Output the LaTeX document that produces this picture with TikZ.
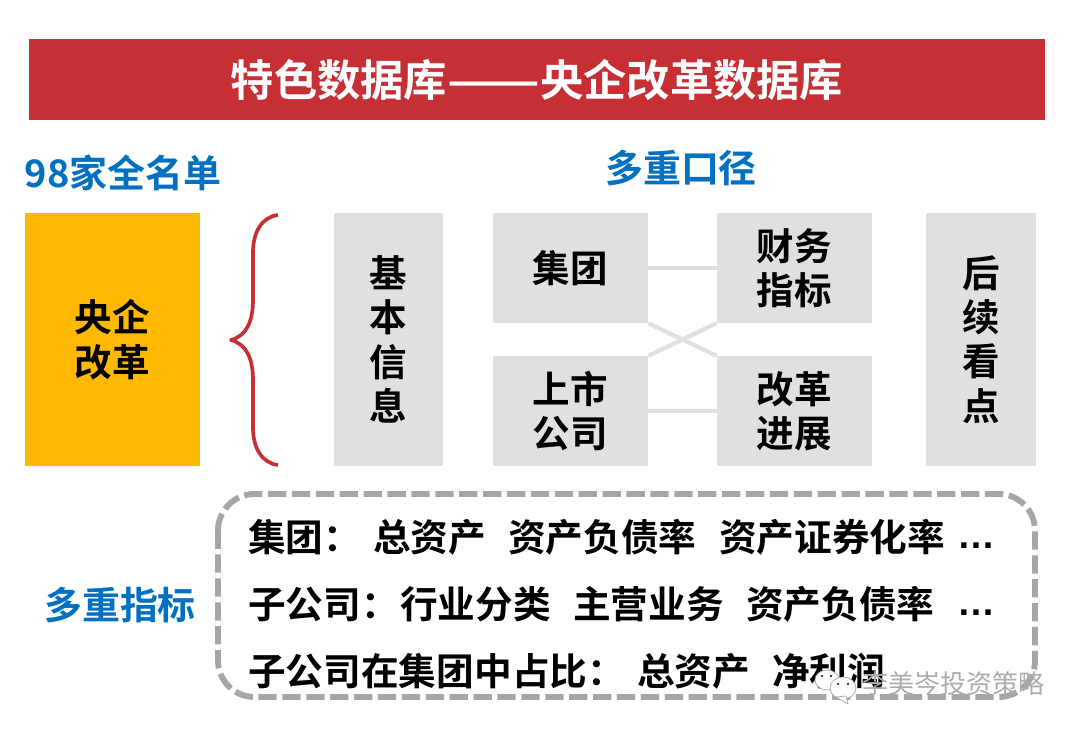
\documentclass[tikz,border=0pt]{standalone}
\usepackage{fontspec}
\usepackage{graphicx}
\setmainfont{Noto Sans CJK SC}[BoldFont={* Bold}]
\newfontfamily\dotsfont{Liberation Sans}
\usetikzlibrary{calc, positioning}
\definecolor{titlered}{HTML}{C63035}
\definecolor{headblue}{HTML}{0070C0}
\definecolor{boxgray}{HTML}{E0E0E0}
\definecolor{dashgray}{HTML}{A6A6A6}
\definecolor{keyyellow}{HTML}{FFB900}
\tikzset{
  graybox/.style={fill=boxgray, inner sep=0pt, align=center, font=\fontsize{26.7}{31.5}\selectfont\bfseries},
  smallbox/.style={graybox, minimum width=110.5pt, minimum height=78.2pt},
  tallbox/.style={graybox, minimum width=78.2pt, minimum height=180pt},
  head/.style={text=headblue, inner sep=0pt, font=\fontsize{27}{31}\selectfont\bfseries},
  rowtext/.style={anchor=west, inner sep=0pt, font=\fontsize{26.8}{31}\selectfont\bfseries},
  rowdots/.style={rowtext, font=\dotsfont\bfseries\fontsize{27}{31}\selectfont},
  link/.style={boxgray, line width=3pt},
  bubble/.style={fill=white, draw=gray!70, line width=0.5pt}
}
\begin{document}
\begin{tikzpicture}[x=0.25mm, y=-0.25mm]
  \useasboundingbox (0,0) rectangle (1080,732);
  \fill[white] (0,0) rectangle (1080,732);

  \node[fill=titlered, text=white, inner sep=0pt, minimum width=722.6pt, minimum height=57.6pt,
    font=\fontsize{30.8}{36}\selectfont\bfseries] (title) at (537,79.5) {特色数据库\scalebox{1.26}[1]{——}央企改革数据库};

  \node[head] (qmd) at (123,173) {98家全名单};
  \node[head] (dck) at (681,168) {多重口径};
  \node[head] (dzb) at (120,605) {多重指标};

  \node[fill=keyyellow, inner sep=0pt, align=center, minimum width=124.5pt, minimum height=180pt,
    font=\fontsize{26.7}{31.5}\selectfont\bfseries] (yq) at (112.5,339.5) {央企\\改革};

  % brace
  \draw[titlered, line width=2.6pt, line join=round] (278,215) .. controls (262,217) and (253,232) .. (253,252)
    -- (253,300) .. controls (253,322) and (246,336) .. (231,340)
    .. controls (246,344) and (253,358) .. (253,380)
    -- (253,428) .. controls (253,448) and (262,463) .. (278,465);

  \node[tallbox] (jbxx) at (388.5,339.5) {基\\本\\信\\息};
  \node[tallbox] (hxkd) at (981,339.5) {后\\续\\看\\点};

  \node[smallbox] (jt) at (570.5,268) {集团};
  \node[smallbox] (cw) at (794.5,268) {财务\\指标};
  \node[smallbox] (ss) at (570.5,411) {上市\\公司};
  \node[smallbox] (gg) at (794.5,411) {改革\\进展};

  \draw[link] (jt) -- (cw);
  \draw[link] (ss) -- (gg);
  \draw[link] (jt.south east) -- (gg.north west);
  \draw[link] (ss.north east) -- (cw.south west);

  \draw[dashgray, line width=4.2pt, dash pattern=on 13pt off 4pt, rounded corners=26pt]
    (218,494) rectangle (1035,697);

  \node[rowtext] (r1a) at (248,537) {集团：};
  \node[rowtext] (r1b) at (373,537) {总资产};
  \node[rowtext] (r1c) at (508,537) {资产负债率};
  \node[rowtext] (r1d) at (719,537) {资产证券化率};
  \node[rowdots] (r1e) at (957,546) {…};

  \node[rowtext] (r2a) at (248,604) {子公司：};
  \node[rowtext] (r2b) at (400,604) {行业分类};
  \node[rowtext] (r2c) at (573,604) {主营业务};
  \node[rowtext] (r2d) at (746,604) {资产负债率};
  \node[rowdots] (r2e) at (957,613) {…};

  \node[rowtext] (r3a) at (248,671) {子公司在集团中占比：};
  \node[rowtext] (r3b) at (637,671) {总资产};
  \node[rowtext] (r3c) at (772,671) {净利润};

  % watermark
  \fill[bubble] (827,680) ellipse (12 and 10);
  \fill[bubble] (843,688) ellipse (13 and 11);
  \fill[bubble] (836,697) -- (848,704) -- (846,696) -- cycle;
  \fill[black] (822,676) circle (1.2) (831,676) circle (1.2) (838,684) circle (1.2) (848,684) circle (1.2);
  \node[anchor=west, inner sep=0pt, text=gray!65, font=\fontsize{18.5}{22}\selectfont] (wm) at (862,684) {李美岑投资策略};
\end{tikzpicture}
\end{document}
